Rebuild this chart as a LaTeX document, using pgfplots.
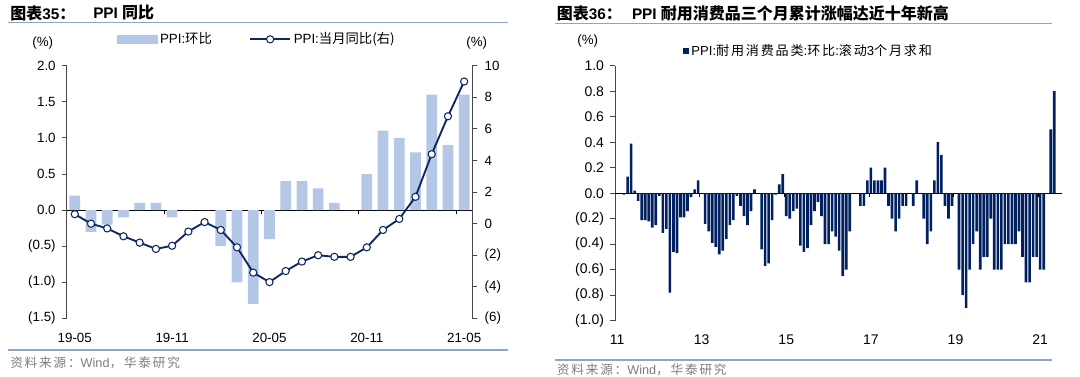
\documentclass[border=0pt]{standalone}
\usepackage{pgfplots}
\pgfplotsset{compat=1.18}
\usepackage{fontspec}
\setmainfont{Liberation Sans}
\newfontfamily\cjk{Noto Sans CJK SC}
\newfontfamily\cjks[LetterSpace=14]{Noto Sans CJK SC}
\definecolor{barblue}{RGB}{180,199,231}
\definecolor{navy}{RGB}{14,40,100}
\definecolor{darknavy}{RGB}{0,32,96}
\definecolor{rulecol}{RGB}{143,165,198}
\definecolor{axgray}{RGB}{70,70,70}
\definecolor{srcgray}{RGB}{125,125,125}
\pgfplotsset{basestyle/.style={scale only axis, anchor=north west,
  /pgf/number format/assume math mode=true,
  axis line style={axgray, line width=0.75pt}, tick style={axgray, line width=0.75pt},
  tick align=outside, major tick length=3.75pt, clip=false},
  mylinelegend/.style={legend image code/.code={\draw[mark repeat=2,mark phase=2,##1] plot coordinates {(0pt,0pt) (15pt,0pt) (30pt,0pt)};}}}
\begin{document}
\begin{tikzpicture}
\path[use as bounding box] (0,0) rectangle (810pt,-282pt);
% titles
\node[anchor=west,inner sep=0pt,font=\fontsize{11.5}{13}\selectfont\bfseries] at (7.5pt,-9.75pt) {{\cjk\fontsize{12}{13}\selectfont 图表}35{\cjk\fontsize{12}{13}\selectfont ：}};
\node[anchor=west,inner sep=0pt,font=\fontsize{11.5}{13}\selectfont\bfseries] at (69.75pt,-9.75pt) {PPI {\cjk\fontsize{12}{13}\selectfont 同比}};
\node[anchor=west,inner sep=0pt,font=\fontsize{11.5}{13}\selectfont\bfseries] at (417.5pt,-9.75pt) {{\cjk\fontsize{12}{13}\selectfont 图表}36{\cjk\fontsize{12}{13}\selectfont ：}};
\node[anchor=west,inner sep=0pt,font=\fontsize{11.5}{13}\selectfont\bfseries] at (473.8pt,-9.75pt) {PPI {\cjk\fontsize{12}{13}\selectfont 耐用消费品三个月累计涨幅达近十年新高}};
\draw[rulecol, line width=1pt] (6pt,-17pt) -- (381pt,-17pt);
\draw[rulecol, line width=1pt] (416.25pt,-17.5pt) -- (789pt,-17.5pt);
\draw[rulecol, line width=1pt] (6pt,-262.5pt) -- (381pt,-262.5pt);
\draw[rulecol, line width=1pt] (416.25pt,-270pt) -- (789pt,-270pt);
\node[anchor=west,inner sep=0pt,text=srcgray,font=\fontsize{9.5}{11}\selectfont] at (7.5pt,-272pt) {{\cjks 资料来源：}Wind{\cjks ，华泰研究}};
\node[anchor=west,inner sep=0pt,text=srcgray,font=\fontsize{9.5}{11}\selectfont] at (417.5pt,-277pt) {{\cjks 资料来源：}Wind{\cjks ，华泰研究}};

% ---------- left chart: bars (left axis)
\begin{axis}[basestyle, at={(50pt,-49.3pt)}, width=304.2pt, height=189.5pt,
  xmin=-0.5, xmax=24.5, ymin=-1.5, ymax=2,
  axis y line*=left, axis x line*=bottom, x axis line style={draw=none}, x tick style={draw=none},
  xtick={0,6,12,18,24}, xticklabels={19-05,19-11,20-05,20-11,21-05},
  xticklabel style={yshift=-4pt},
  ytick={-1.5,-1,-0.5,0,0.5,1,1.5,2}, yticklabels={(1.5),(1.0),(0.5),0.0,0.5,1.0,1.5,2.0},
  yticklabel style={xshift=-1pt},
  tick label style={font=\fontsize{10}{12}\selectfont},
  extra y ticks={0}, extra y tick labels={}, extra y tick style={grid=major, major grid style={black, line width=0.75pt}},
  ybar, bar width=0.66]
\addplot[fill=barblue, draw=none] table[row sep=\\] {
x y\\ 0 0.2\\ 1 -0.3\\ 2 -0.2\\ 3 -0.1\\ 4 0.1\\ 5 0.1\\ 6 -0.1\\ 7 0\\ 8 0\\ 9 -0.5\\
10 -1.0\\ 11 -1.3\\ 12 -0.4\\ 13 0.4\\ 14 0.4\\ 15 0.3\\ 16 0.1\\ 17 0\\ 18 0.5\\ 19 1.1\\
20 1.0\\ 21 0.8\\ 22 1.6\\ 23 0.9\\ 24 1.6\\
};
\pgfplotsinvokeforeach{5.5,11.5,17.5,23.5}{\draw[black, line width=0.75pt] (axis cs:#1,0) -- ++(0pt,-3pt);}
\node[font=\fontsize{10}{12}\selectfont] at (rel axis cs:-0.059,1.091) {(\%)};
\node[font=\fontsize{10}{12}\selectfont] at (rel axis cs:1.011,1.091) {(\%)};
\end{axis}

% ---------- left chart: line (right axis)
\begin{axis}[basestyle, at={(50pt,-49.3pt)}, width=304.2pt, height=189.5pt,
  xmin=-0.5, xmax=24.5, ymin=-6, ymax=10,
  axis y line*=right, axis x line=none,
  ytick={-6,-4,-2,0,2,4,6,8,10}, yticklabels={(6),(4),(2),0,2,4,6,8,10},
  yticklabel style={xshift=2pt},
  tick label style={font=\fontsize{10}{12}\selectfont},
  legend columns=2,
  legend style={at={(0.123,1.1045)}, anchor=west, draw=none, fill=none, inner sep=0pt,
    font=\fontsize{10}{12}\selectfont, /tikz/every even column/.append style={column sep=26pt}}]
\addlegendimage{legend image code/.code={\fill[barblue] (0pt,-2.7pt) rectangle (30pt,2.7pt);}}
\addlegendentry{PPI:{\cjk 环比}}
\addplot[navy, line width=1.4pt, mark=*, mark size=2.7pt, mark options={fill=white, draw=navy, line width=0.8pt},
  mylinelegend]
  table[row sep=\\] {
x y\\ 0 0.6\\ 1 0.0\\ 2 -0.3\\ 3 -0.8\\ 4 -1.2\\ 5 -1.6\\ 6 -1.4\\ 7 -0.5\\ 8 0.1\\ 9 -0.4\\
10 -1.5\\ 11 -3.1\\ 12 -3.7\\ 13 -3.0\\ 14 -2.4\\ 15 -2.0\\ 16 -2.1\\ 17 -2.1\\ 18 -1.5\\ 19 -0.4\\
20 0.3\\ 21 1.7\\ 22 4.4\\ 23 6.8\\ 24 9.0\\
};
\addlegendentry{PPI:{\cjk 当月同比(右)}}
\end{axis}

% ---------- right chart
\begin{axis}[basestyle, at={(461.25pt,-49.3pt)}, width=335.25pt, height=191.25pt,
  xmin=-0.57, xmax=126.2, ymin=-1, ymax=1,
  axis y line*=left, axis x line*=bottom, x axis line style={draw=none}, x tick style={draw=none},
  xtick={0,24,48,72,96,120}, xticklabels={11,13,15,17,19,21},
  xticklabel style={yshift=-3pt},
  ytick={-1,-0.8,-0.6,-0.4,-0.2,0,0.2,0.4,0.6,0.8,1},
  yticklabels={(1.0),(0.8),(0.6),(0.4),(0.2),0.0,0.2,0.4,0.6,0.8,1.0},
  yticklabel style={xshift=-1pt},
  tick label style={font=\fontsize{10.5}{12}\selectfont},
  extra y ticks={0}, extra y tick labels={}, extra y tick style={grid=major, major grid style={black, line width=0.75pt}},
  ybar, bar width=0.75,
  legend style={at={(0.151,1.059)}, anchor=west, draw=none, fill=none, inner sep=0pt,
    font=\fontsize{9.8}{10}\selectfont}]
\addplot[fill=darknavy, draw=none, legend image code/.code={\fill[darknavy] (0pt,-2.25pt) rectangle (4.5pt,2.25pt);}]
  table[row sep=\\] {
x y\\
2 -0.01\\ 3 0.13\\ 4 0.39\\ 5 0.02\\ 6 -0.06\\ 7 -0.21\\ 8 -0.21\\ 9 -0.22\\ 10 -0.27\\ 11 -0.25\\
12 -0.02\\ 13 -0.31\\ 14 -0.28\\ 15 -0.78\\ 16 -0.46\\ 17 -0.47\\ 18 -0.19\\ 19 -0.19\\ 20 -0.14\\ 21 -0.03\\
22 0.03\\ 23 0.10\\ 24 0.00\\ 25 -0.24\\ 26 -0.30\\ 27 -0.39\\ 28 -0.42\\ 29 -0.48\\ 30 -0.45\\ 31 -0.36\\
32 -0.25\\ 33 -0.21\\ 34 -0.02\\ 35 -0.10\\ 36 -0.18\\ 37 -0.25\\ 38 -0.14\\ 39 0.03\\ 40 0.00\\ 41 -0.44\\
42 -0.57\\ 43 -0.55\\ 44 -0.21\\ 45 -0.01\\ 46 0.07\\ 47 0.15\\ 48 -0.18\\ 49 -0.20\\ 50 -0.14\\ 51 -0.12\\
52 -0.41\\ 53 -0.46\\ 54 -0.43\\ 55 -0.25\\ 56 -0.14\\ 57 -0.07\\ 58 -0.18\\ 59 -0.40\\ 60 -0.40\\ 61 -0.30\\
62 -0.34\\ 63 -0.45\\ 64 -0.65\\ 65 -0.60\\ 66 -0.30\\ 67 0.00\\ 68 0.00\\ 69 -0.10\\ 70 -0.10\\ 71 0.10\\
72 0.20\\ 73 0.10\\ 74 0.10\\ 75 0.10\\ 76 0.20\\ 77 -0.10\\ 78 -0.20\\ 79 -0.30\\ 80 -0.20\\ 81 -0.10\\
82 -0.10\\ 83 0.00\\ 84 -0.10\\ 85 0.10\\ 86 0.00\\ 87 -0.20\\ 88 -0.40\\ 89 -0.30\\ 90 0.10\\ 91 0.40\\
92 0.30\\ 93 -0.10\\ 94 -0.20\\ 95 -0.10\\ 96 0.00\\ 97 -0.60\\ 98 -0.80\\ 99 -0.90\\ 100 -0.60\\ 101 -0.40\\
102 -0.30\\ 103 -0.60\\ 104 -0.50\\ 105 -0.50\\ 106 -0.20\\ 107 -0.60\\ 108 -0.60\\ 109 -0.60\\ 110 -0.40\\ 111 -0.40\\
112 -0.40\\ 113 -0.40\\ 114 -0.30\\ 115 -0.50\\ 116 -0.70\\ 117 -0.70\\ 118 -0.50\\ 119 -0.50\\ 120 -0.60\\ 121 -0.60\\
122 0.00\\ 123 0.50\\ 124 0.80\\
};
\addlegendentry{PPI:{\cjks 耐用消费品类}:{\cjks 环比}:{\cjks 滚动}3{\cjks 个月求和}}
\pgfplotsinvokeforeach{23.5,47.5,71.5,95.5,119.5}{\draw[black, line width=0.75pt] (axis cs:#1,0) -- ++(0pt,-3pt);}
\node[font=\fontsize{10}{12}\selectfont] at (rel axis cs:-0.061,1.097) {(\%)};
\end{axis}
\end{tikzpicture}
\end{document}
